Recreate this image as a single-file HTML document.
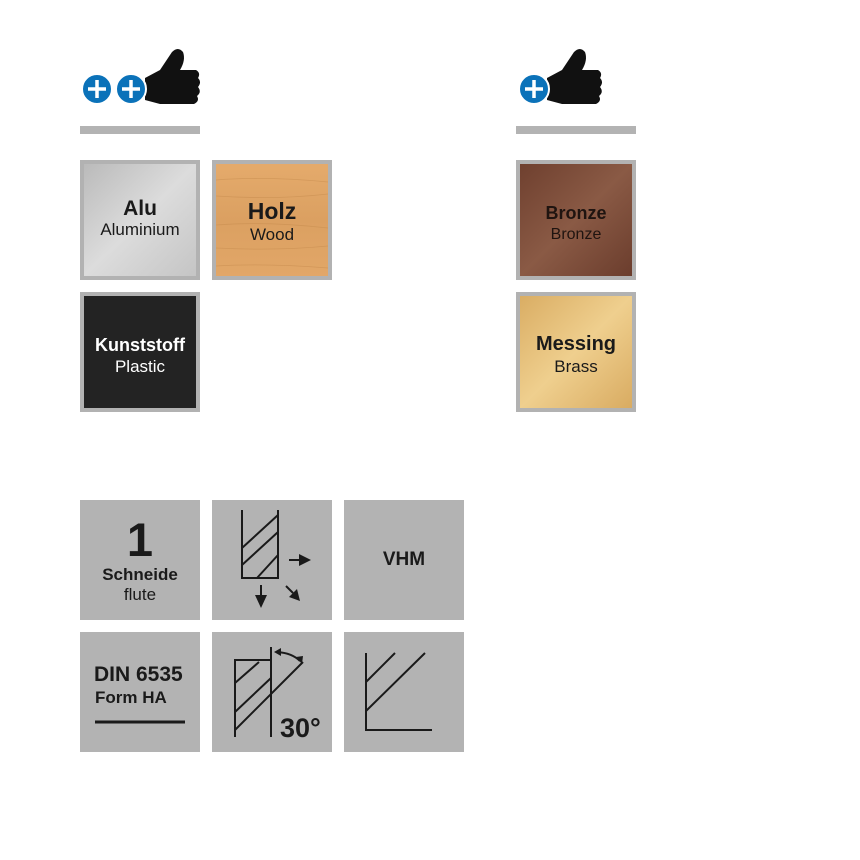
<!DOCTYPE html>
<html><head><meta charset="utf-8"><style>
body{margin:0;background:#fff;width:860px;height:860px;position:relative;overflow:hidden;font-family:"Liberation Sans",sans-serif}
.a{position:absolute;left:0;width:100%;text-align:center}
</style></head><body>
<svg width="860" height="860" style="position:absolute;left:0;top:0">
<defs>
<linearGradient id="alu" x1="0" y1="0" x2="1" y2="1"><stop offset="0" stop-color="#b9b9b9"/><stop offset=".5" stop-color="#dcdcdc"/><stop offset="1" stop-color="#c4c4c4"/></linearGradient>
<linearGradient id="wood" x1="0" y1="0" x2="0" y2="1"><stop offset="0" stop-color="#e5ab6c"/><stop offset=".5" stop-color="#dba061"/><stop offset="1" stop-color="#e2a768"/></linearGradient>
<linearGradient id="bro" x1="0" y1="0" x2="1" y2="1"><stop offset="0" stop-color="#6e3f2e"/><stop offset=".5" stop-color="#8a5a45"/><stop offset="1" stop-color="#6a3c2c"/></linearGradient>
<linearGradient id="mes" x1="0" y1="0" x2="1" y2="1"><stop offset="0" stop-color="#d9ac62"/><stop offset=".5" stop-color="#efcf8e"/><stop offset="1" stop-color="#d8aa60"/></linearGradient>
</defs>
<g id="th">
<path d="M145,78 L160,70 L172,52 Q178,46 183,52 Q186,60 180,70 L196,70 Q201,73 198,78 Q202,82 198,87 Q202,92 197,96 Q200,101 194,104 L160,104 L145,100 Z" fill="#111"/>
</g>
<use href="#th" x="402" y="0"/>
<circle cx="97" cy="89" r="15" fill="#0b72b9" stroke="#fff" stroke-width="2"/>
<circle cx="131" cy="89" r="15" fill="#0b72b9" stroke="#fff" stroke-width="2"/>
<circle cx="534" cy="89" r="15" fill="#0b72b9" stroke="#fff" stroke-width="2"/>
<g stroke="#fff" stroke-width="3.5"><path d="M88,89h18M97,80v18M122,89h18M131,80v18M525,89h18M534,80v18"/></g>
<rect x="80" y="126" width="120" height="8" fill="#b3b3b3"/>
<rect x="516" y="126" width="120" height="8" fill="#b3b3b3"/>
<g stroke="#b2b2b2" stroke-width="4">
<rect x="82" y="162" width="116" height="116" fill="url(#alu)"/>
<rect x="214" y="162" width="116" height="116" fill="url(#wood)"/>
<rect x="82" y="294" width="116" height="116" fill="#232323"/>
<rect x="518" y="162" width="116" height="116" fill="url(#bro)"/>
<rect x="518" y="294" width="116" height="116" fill="url(#mes)"/>
</g>
<g stroke="#c88e50" stroke-width="0.8" fill="none" opacity=".6"><path d="M216,180q50,-4 112,2M216,196q60,4 112,-2M216,225q50,-4 112,3M216,248q60,3 112,-2M216,266q50,-3 112,2"/></g>
<g fill="#b3b3b3">
<rect x="80" y="500" width="120" height="120"/><rect x="212" y="500" width="120" height="120"/><rect x="344" y="500" width="120" height="120"/>
<rect x="80" y="632" width="120" height="120"/><rect x="212" y="632" width="120" height="120"/><rect x="344" y="632" width="120" height="120"/>
</g>
<g stroke="#1a1a1a" stroke-width="2" fill="none">
<path d="M242,510V578H278V510M242,548L278,515M242,565L278,532M257,578L278,555"/>
<path d="M289,560H300M261,585V596M286,586L293,593"/>
<path d="M95,722H185" stroke-width="3"/>
<path d="M235,737V660H271M271,647V737M235,683L259,662M235,712L271,678M235,730L303,662"/>
<path d="M277,652Q292,653 300,661"/>
<path d="M366,653V730H432M366,682L395,653M366,711L425,653"/>
</g>
<g fill="#1a1a1a">
<path d="M299,554L311,560L299,566Z"/><path d="M255,595L267,595L261,608Z"/>
<path d="M289,597L297,589L300,601Z"/>
<path d="M274,652L281,648L281,656Z"/><path d="M302,664L296,657L303,656Z"/>
</g>
<text x="280" y="737" font-size="27" font-weight="bold" fill="#1a1a1a" font-family="Liberation Sans,sans-serif">30°</text>
</svg>
<div class="a" style="left:80px;width:120px;top:197px;font-size:21px;font-weight:bold;color:#1a1a1a">Alu</div>
<div class="a" style="left:80px;width:120px;top:220px;font-size:17px;color:#1a1a1a">Aluminium</div>
<div class="a" style="left:212px;width:120px;top:198px;font-size:23px;font-weight:bold;color:#1a1a1a">Holz</div>
<div class="a" style="left:212px;width:120px;top:225px;font-size:17px;color:#1a1a1a">Wood</div>
<div class="a" style="left:80px;width:120px;top:335px;font-size:18px;font-weight:bold;color:#fff">Kunststoff</div>
<div class="a" style="left:80px;width:120px;top:357px;font-size:17px;color:#fff">Plastic</div>
<div class="a" style="left:516px;width:120px;top:203px;font-size:18px;font-weight:bold;color:#1f1410">Bronze</div>
<div class="a" style="left:516px;width:120px;top:226px;font-size:16px;color:#1f1410">Bronze</div>
<div class="a" style="left:516px;width:120px;top:333px;font-size:20px;font-weight:bold;color:#1a1a1a">Messing</div>
<div class="a" style="left:516px;width:120px;top:357px;font-size:17px;color:#1a1a1a">Brass</div>
<div class="a" style="left:80px;width:120px;top:513px;font-size:47px;font-weight:bold;color:#1a1a1a;line-height:54px">1</div>
<div class="a" style="left:80px;width:120px;top:565px;font-size:17px;font-weight:bold;color:#1a1a1a">Schneide</div>
<div class="a" style="left:80px;width:120px;top:585px;font-size:17px;color:#1a1a1a">flute</div>
<div class="a" style="left:344px;width:120px;top:549px;font-size:19px;font-weight:bold;color:#1a1a1a">VHM</div>
<div style="position:absolute;left:94px;top:663px;font-size:21px;font-weight:bold;color:#1a1a1a">DIN 6535</div>
<div style="position:absolute;left:95px;top:688px;font-size:17px;font-weight:bold;color:#1a1a1a">Form HA</div>
</body></html>
